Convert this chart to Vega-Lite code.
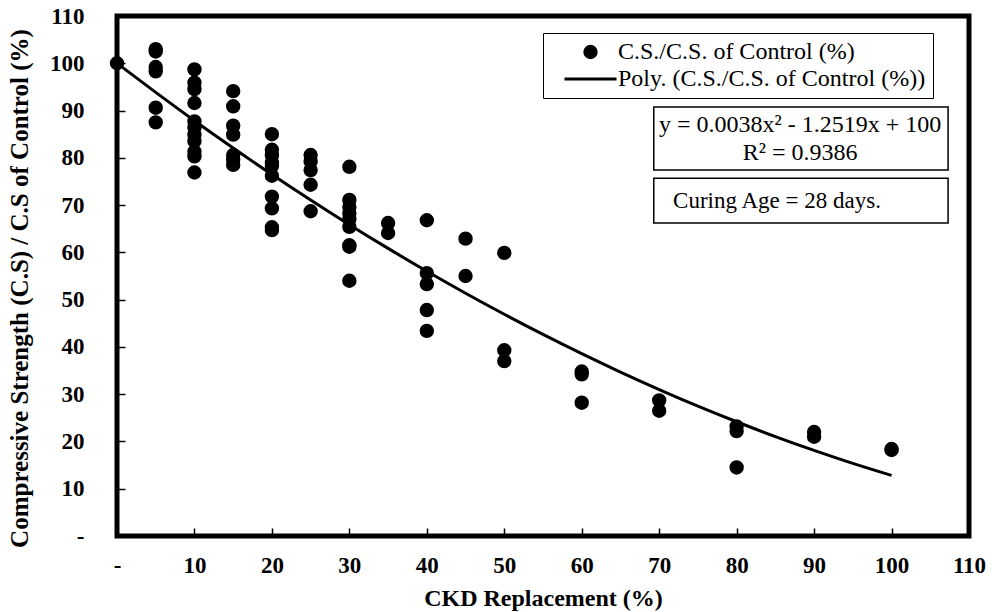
{
  "$schema": "https://vega.github.io/schema/vega-lite/v6.json",
  "width": 852,
  "height": 520,
  "autosize": {"type": "none"},
  "padding": {"left": 117, "top": 16, "right": 23, "bottom": 76},
  "background": "white",
  "config": {
    "font": "Liberation Serif",
    "view": {"stroke": "black", "strokeWidth": 5},
    "axis": {
      "labelFont": "Liberation Serif",
      "labelFontWeight": "bold",
      "labelFontSize": 23,
      "labelColor": "black",
      "titleFont": "Liberation Serif",
      "titleFontWeight": "bold",
      "titleFontSize": 24,
      "titleColor": "black",
      "domain": false,
      "grid": false,
      "ticks": true,
      "tickColor": "black",
      "tickWidth": 1.5,
      "tickSize": -8
    },
    "legend": {
      "title": null,
      "orient": "none",
      "legendX": 426,
      "legendY": 17,
      "direction": "vertical",
      "strokeColor": "black",
      "fillColor": "white",
      "padding": 7,
      "rowPadding": 3,
      "symbolOffset": 28.5,
      "labelFont": "Liberation Serif",
      "labelFontSize": 24,
      "labelColor": "black",
      "labelOffset": 15.5,
      "labelLimit": 600,
      "symbolStrokeWidth": 3
    }
  },
  "datasets": {
    "points": [
      {"x": 0, "y": 100},
      {"x": 5, "y": 103}, {"x": 5, "y": 102.5}, {"x": 5, "y": 99.2}, {"x": 5, "y": 98.3}, {"x": 5, "y": 90.6}, {"x": 5, "y": 87.5},
      {"x": 10, "y": 98.7}, {"x": 10, "y": 95.9}, {"x": 10, "y": 94.5}, {"x": 10, "y": 91.6}, {"x": 10, "y": 87.7}, {"x": 10, "y": 86.4}, {"x": 10, "y": 84.9}, {"x": 10, "y": 83.5}, {"x": 10, "y": 81.3}, {"x": 10, "y": 80.3}, {"x": 10, "y": 76.9},
      {"x": 15, "y": 94.1}, {"x": 15, "y": 90.9}, {"x": 15, "y": 86.8}, {"x": 15, "y": 84.9}, {"x": 15, "y": 80.6}, {"x": 15, "y": 79.6}, {"x": 15, "y": 78.5},
      {"x": 20, "y": 85}, {"x": 20, "y": 81.7}, {"x": 20, "y": 80.5}, {"x": 20, "y": 79}, {"x": 20, "y": 78.3}, {"x": 20, "y": 76.2}, {"x": 20, "y": 71.8}, {"x": 20, "y": 69.3}, {"x": 20, "y": 64.7}, {"x": 20, "y": 65.3},
      {"x": 25, "y": 80.6}, {"x": 25, "y": 79.2}, {"x": 25, "y": 77.4}, {"x": 25, "y": 74.3}, {"x": 25, "y": 68.7},
      {"x": 30, "y": 78.1}, {"x": 30, "y": 71.1}, {"x": 30, "y": 69.6}, {"x": 30, "y": 68.3}, {"x": 30, "y": 67}, {"x": 30, "y": 65.4}, {"x": 30, "y": 61.5}, {"x": 30, "y": 61.2}, {"x": 30, "y": 54},
      {"x": 35, "y": 66.2}, {"x": 35, "y": 64.1},
      {"x": 40, "y": 66.8}, {"x": 40, "y": 55.6}, {"x": 40, "y": 53.3}, {"x": 40, "y": 47.8}, {"x": 40, "y": 43.4},
      {"x": 45, "y": 62.9}, {"x": 45, "y": 55},
      {"x": 50, "y": 59.9}, {"x": 50, "y": 39.3}, {"x": 50, "y": 37},
      {"x": 60, "y": 34.8}, {"x": 60, "y": 34.2}, {"x": 60, "y": 28.2},
      {"x": 70, "y": 28.7}, {"x": 70, "y": 26.5},
      {"x": 80, "y": 23.2}, {"x": 80, "y": 22.2}, {"x": 80, "y": 14.5},
      {"x": 90, "y": 22}, {"x": 90, "y": 21},
      {"x": 100, "y": 18.4}, {"x": 100, "y": 18.2}
    ],
    "trend": [
      {"x": 0, "y": 100}, {"x": 5, "y": 93.84}, {"x": 10, "y": 87.86}, {"x": 15, "y": 82.08},
      {"x": 20, "y": 76.48}, {"x": 25, "y": 71.08}, {"x": 30, "y": 65.86}, {"x": 35, "y": 60.84},
      {"x": 40, "y": 56.0}, {"x": 45, "y": 51.36}, {"x": 50, "y": 46.91}, {"x": 55, "y": 42.64},
      {"x": 60, "y": 38.57}, {"x": 65, "y": 34.68}, {"x": 70, "y": 30.99}, {"x": 75, "y": 27.48},
      {"x": 80, "y": 24.17}, {"x": 85, "y": 21.04}, {"x": 90, "y": 18.11}, {"x": 95, "y": 15.36},
      {"x": 100, "y": 12.81}
    ]
  },
  "layer": [
    {
      "data": {"name": "trend"},
      "mark": {"type": "line", "color": "black", "strokeWidth": 3, "interpolate": "monotone"},
      "encoding": {
        "x": {
          "field": "x", "type": "quantitative",
          "scale": {"domain": [0, 110], "nice": false, "zero": false},
          "axis": {
            "title": "CKD Replacement (%)",
            "values": [0, 5, 10, 15, 20, 25, 30, 35, 40, 45, 50, 55, 60, 65, 70, 75, 80, 85, 90, 95, 100, 105, 110],
            "labelExpr": "datum.value % 10 != 0 ? '' : (datum.value == 0 ? '-' : datum.label)",
            "labelPadding": 26,
            "labelFlush": false,
            "labelOverlap": false,
            "titleY": 62,
            "titleBaseline": "middle"
          }
        },
        "y": {
          "field": "y", "type": "quantitative",
          "scale": {"domain": [0, 110], "nice": false, "zero": false},
          "axis": {
            "title": "Compressive Strength (C.S) / C.S of Control (%)",
            "values": [0, 5, 10, 15, 20, 25, 30, 35, 40, 45, 50, 55, 60, 65, 70, 75, 80, 85, 90, 95, 100, 105, 110],
            "labelExpr": "datum.value % 10 != 0 ? '' : (datum.value == 0 ? '-' : datum.label)",
            "labelPadding": 41,
            "labelFlush": false,
            "labelOverlap": false,
            "titleFontSize": 25,
            "titleAngle": -90,
            "titleX": -98,
            "titleY": 272,
            "titleAlign": "center",
            "titleBaseline": "middle"
          }
        }
      }
    },
    {
      "data": {"name": "points"},
      "mark": {"type": "point", "filled": true, "color": "black", "fill": "black", "stroke": "black", "strokeWidth": 3, "opacity": 1},
      "encoding": {
        "x": {"field": "x", "type": "quantitative"},
        "y": {"field": "y", "type": "quantitative"},
        "shape": {
          "datum": "C.S./C.S. of Control (%)",
          "type": "ordinal",
          "scale": {
            "domain": ["C.S./C.S. of Control (%)", "Poly. (C.S./C.S. of Control (%))"],
            "range": ["circle", "M-3.47,0L3.47,0"]
          },
          "legend": {"title": null}
        },
        "size": {
          "datum": "C.S./C.S. of Control (%)",
          "type": "ordinal",
          "scale": {
            "domain": ["C.S./C.S. of Control (%)", "Poly. (C.S./C.S. of Control (%))"],
            "range": [130, 225]
          },
          "legend": {"title": null}
        }
      }
    },
    {
      "data": {"values": [{}]},
      "mark": {"type": "rect", "fill": "white", "stroke": "black", "strokeWidth": 1.5},
      "encoding": {
        "x": {"datum": 69.3, "type": "quantitative"},
        "x2": {"datum": 107.3},
        "y": {"datum": 90.75, "type": "quantitative"},
        "y2": {"datum": 77.4}
      }
    },
    {
      "data": {"values": [{}]},
      "mark": {"type": "text", "font": "Liberation Serif", "fontSize": 24, "color": "black", "align": "center", "baseline": "middle", "lineHeight": 28},
      "encoding": {
        "x": {"datum": 88.2, "type": "quantitative"},
        "y": {"datum": 87, "type": "quantitative"},
        "text": {"value": ["y = 0.0038x² - 1.2519x + 100", "R² = 0.9386"]}
      }
    },
    {
      "data": {"values": [{}]},
      "mark": {"type": "rect", "fill": "white", "stroke": "black", "strokeWidth": 1.5},
      "encoding": {
        "x": {"datum": 69.3, "type": "quantitative"},
        "x2": {"datum": 107.3},
        "y": {"datum": 75.7, "type": "quantitative"},
        "y2": {"datum": 66.2}
      }
    },
    {
      "data": {"values": [{}]},
      "mark": {"type": "text", "font": "Liberation Serif", "fontSize": 23, "color": "black", "align": "left", "baseline": "middle"},
      "encoding": {
        "x": {"datum": 71.8, "type": "quantitative"},
        "y": {"datum": 70.8, "type": "quantitative"},
        "text": {"value": "Curing Age = 28 days."}
      }
    }
  ]
}
